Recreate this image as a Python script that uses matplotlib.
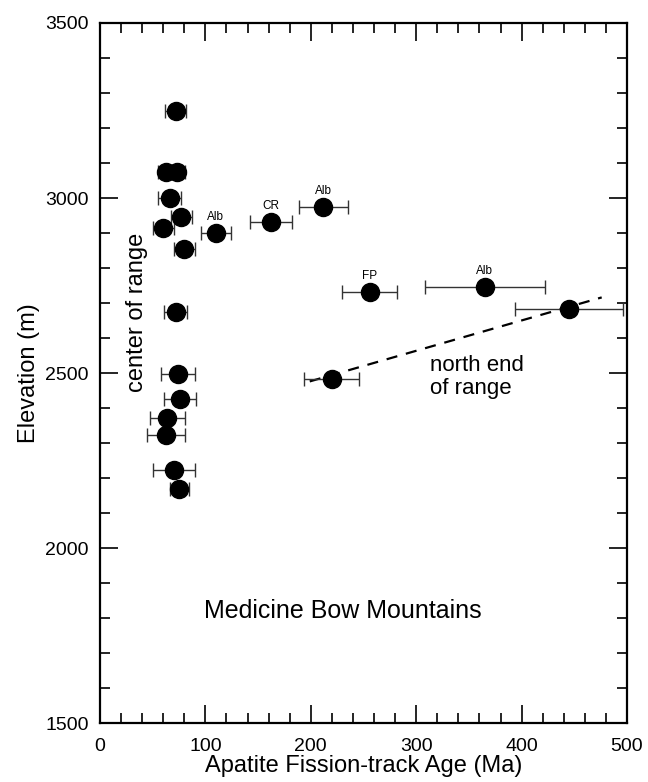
import matplotlib
matplotlib.use("Agg")
import matplotlib.pyplot as plt
from matplotlib.ticker import MultipleLocator

plt.rcParams['font.family'] = ['Liberation Sans', 'DejaVu Sans']

# apatite fission-track ages (Ma), elevations (m), 1-sigma errors
ages = [72, 63, 73, 66, 77, 60, 80, 72, 74, 76, 64, 63, 70, 75,
        110, 162, 212, 256, 365, 445, 220]
elev = [3249, 3075, 3075, 3001, 2945, 2915, 2854, 2673, 2497, 2425, 2371, 2323, 2223, 2168,
        2901, 2931, 2974, 2732, 2747, 2682, 2482]
age_err = [10, 8, 8, 11, 10, 10, 10, 11, 16, 15, 17, 18, 20, 9,
           14, 20, 23, 26, 57, 51, 26]

# labelled samples
lab_text = ['Alb', 'CR', 'Alb', 'FP', 'Alb']
lab_age = [110, 162, 212, 256, 365]
lab_elev = [2901, 2931, 2974, 2732, 2747]

# north end trend line
trend_x = [199, 476]
trend_y = [2476, 2716]

fig = plt.figure(figsize=(6.48, 7.82), dpi=100)
ax = fig.add_axes([0.1543, 0.0754, 0.8133, 0.8952])

ax.errorbar(ages, elev, xerr=age_err, fmt='o', color='black', ms=13,
            ecolor='#333333', elinewidth=1.0, capsize=5, capthick=1.0, zorder=3)
ax.plot(trend_x, trend_y, ls=(0, (5, 4)), color='black', lw=1.6, zorder=2)

for t, x, y in zip(lab_text, lab_age, lab_elev):
    ax.annotate(t, (x, y), xytext=(0, 7), textcoords='offset points',
                ha='center', va='bottom', fontsize=8.5)

ax.text(35, 2674, 'center of range', rotation=90, ha='center', va='center', fontsize=17)
ax.text(313, 2489, 'north end\nof range', ha='left', va='center', fontsize=16,
        linespacing=1.15)
ax.text(230, 1820, 'Medicine Bow Mountains', ha='center', va='center', fontsize=18)

ax.set_xlim(0, 500)
ax.set_ylim(1500, 3500)
ax.xaxis.set_major_locator(MultipleLocator(100))
ax.xaxis.set_minor_locator(MultipleLocator(20))
ax.yaxis.set_major_locator(MultipleLocator(500))
ax.yaxis.set_minor_locator(MultipleLocator(100))
ax.tick_params(which='both', direction='in', top=True, right=True, width=1.2)
ax.tick_params(which='major', length=13, labelsize=14)
ax.tick_params(which='minor', length=7)
ax.tick_params(axis='x', which='major', pad=11)
ax.tick_params(axis='y', which='major', pad=8)
for s in ax.spines.values():
    s.set_linewidth(1.6)

ax.set_xlabel('Apatite Fission-track Age (Ma)', fontsize=17, labelpad=0)
ax.set_ylabel('Elevation (m)', fontsize=17, labelpad=4)

fig.savefig('out.png', dpi=100)
